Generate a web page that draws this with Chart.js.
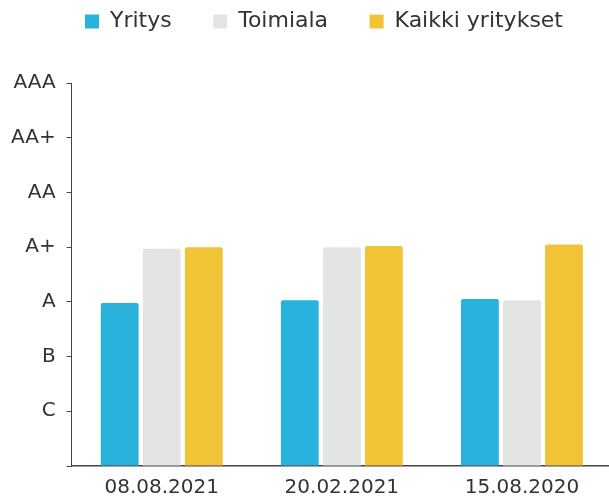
<!DOCTYPE html>
<html>
<head>
<meta charset="utf-8">
<script src="https://cdn.jsdelivr.net/npm/chart.js@4"></script>
<style>
    html, body { margin: 0; padding: 0; background: #fff; overflow: hidden; }
    #wrap { width: 620px; height: 499px; }
</style>
</head>
<body>
<div id="wrap"><canvas id="ratingChart" width="620" height="499"></canvas></div>
<script>
// Chart data
const dates = ['08.08.2021', '20.02.2021', '15.08.2020'];
const ratingLabels = ['', 'C', 'B', 'A', 'A+', 'AA', 'AA+', 'AAA'];
const yritys = [2.98, 3.03, 3.05];
const toimiala = [3.97, 4.0, 3.03];
const kaikki = [4.0, 4.02, 4.05];

const textColor = '#333';
const axisColor = '#444';
const font = { family: "'DejaVu Sans', sans-serif", size: 20 };
const layoutTop = -31;
const legendShift = 18;

// Push the plot area down below the legend and nudge the legend right
const legendSpace = {
    id: 'legendSpace',
    beforeInit(chart) {
        const fit = chart.legend.fit;
        chart.legend.fit = function () {
            fit.call(this);
            this.height = 83 - layoutTop;
        };
    },
    afterLayout(chart) {
        chart.legend.left += legendShift;
        chart.legend.right += legendShift;
    }
};

new Chart(document.getElementById('ratingChart'), {
    type: 'bar',
    data: {
        labels: dates,
        datasets: [
            { label: 'Yritys', data: yritys, backgroundColor: '#29b2db' },
            { label: 'Toimiala', data: toimiala, backgroundColor: '#e3e5e3' },
            { label: 'Kaikki yritykset', data: kaikki, backgroundColor: '#f1c438' }
        ]
    },
    plugins: [legendSpace],
    options: {
        responsive: false,
        animation: false,
        categoryPercentage: 0.7,
        barPercentage: 0.9,
        borderRadius: 2,
        layout: { padding: { top: layoutTop, right: 8, left: 0, bottom: -11 } },
        plugins: {
            tooltip: { enabled: false },
            legend: {
                position: 'top',
                labels: {
                    color: textColor,
                    font: { family: font.family, size: 22 },
                    boxWidth: 14,
                    boxHeight: 14,
                    padding: 41.5
                }
            }
        },
        scales: {
            x: {
                grid: { display: false, drawTicks: false },
                border: { display: true, color: axisColor, width: 1.5 },
                ticks: { color: textColor, font: font, padding: 10 }
            },
            y: {
                min: 0,
                max: 7,
                afterBuildTicks: (scale) => {
                    scale.ticks = ratingLabels.map((_, i) => ({ value: i }));
                },
                grid: { drawOnChartArea: false, color: axisColor, tickLength: 5 },
                border: { display: true, color: axisColor, width: 1 },
                ticks: {
                    color: textColor,
                    font: font,
                    padding: 11,
                    callback: (v) => ratingLabels[v]
                }
            }
        }
    }
});
</script>
</body>
</html>
